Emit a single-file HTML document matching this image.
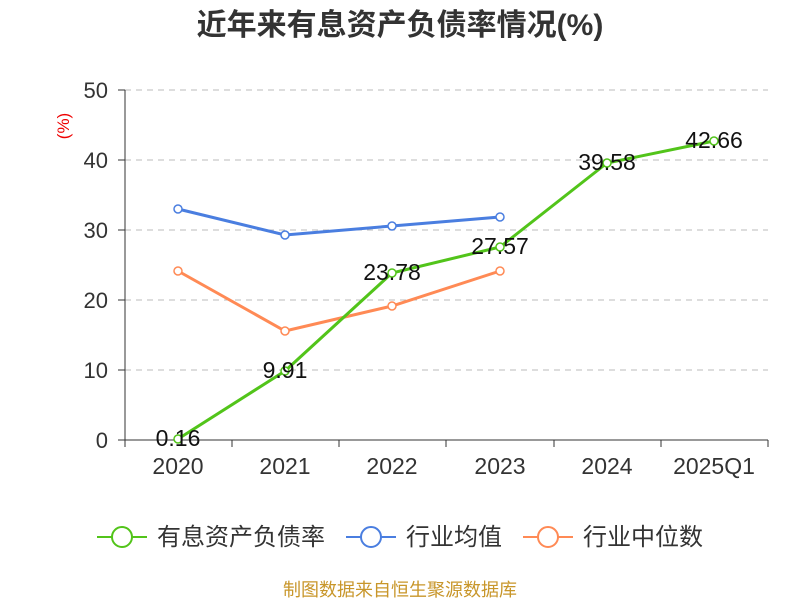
<!DOCTYPE html>
<html><head><meta charset="utf-8"><style>body{margin:0;background:#fff}</style></head><body>
<svg width="800" height="600" xmlns="http://www.w3.org/2000/svg" font-family="Liberation Sans, Noto Sans CJK SC, sans-serif">
<text x="400" y="35" text-anchor="middle" font-size="30" font-weight="bold" fill="#333">近年来有息资产负债率情况(%)</text>
<text transform="translate(69,126) rotate(-90)" text-anchor="middle" font-size="17" fill="#e00">(%)</text>
<g stroke="#bbb" stroke-dasharray="6,5" stroke-width="1">
<line x1="125" y1="90" x2="768" y2="90"/><line x1="125" y1="160" x2="768" y2="160"/><line x1="125" y1="230" x2="768" y2="230"/><line x1="125" y1="300" x2="768" y2="300"/><line x1="125" y1="370" x2="768" y2="370"/></g>
<g stroke="#333" stroke-width="1">
<line x1="125" y1="90" x2="125" y2="440"/>
<line x1="125" y1="440" x2="768" y2="440"/>
<line x1="118" y1="90" x2="125" y2="90"/><line x1="118" y1="160" x2="125" y2="160"/><line x1="118" y1="230" x2="125" y2="230"/><line x1="118" y1="300" x2="125" y2="300"/><line x1="118" y1="370" x2="125" y2="370"/><line x1="118" y1="440" x2="125" y2="440"/>
<line x1="125" y1="440" x2="125" y2="447"/><line x1="232" y1="440" x2="232" y2="447"/><line x1="339" y1="440" x2="339" y2="447"/><line x1="446" y1="440" x2="446" y2="447"/><line x1="554" y1="440" x2="554" y2="447"/><line x1="661" y1="440" x2="661" y2="447"/><line x1="768" y1="440" x2="768" y2="447"/>
</g>
<g font-size="22" fill="#333" text-anchor="end">
<text x="108" y="98">50</text><text x="108" y="168">40</text><text x="108" y="238">30</text><text x="108" y="308">20</text><text x="108" y="378">10</text><text x="108" y="448">0</text></g>
<g font-size="23" fill="#333" text-anchor="middle">
<text x="178" y="474">2020</text><text x="285" y="474">2021</text><text x="392" y="474">2022</text><text x="500" y="474">2023</text><text x="607" y="474">2024</text><text x="714" y="474">2025Q1</text></g>
<g fill="#fff" stroke-width="1.5">
<polyline points="178,209 285,235 392,226 500,217" fill="none" stroke="#4a7ee0" stroke-width="3"/>
<circle cx="178" cy="209" r="4" stroke="#4a7ee0"/><circle cx="285" cy="235" r="4" stroke="#4a7ee0"/><circle cx="392" cy="226" r="4" stroke="#4a7ee0"/><circle cx="500" cy="217" r="4" stroke="#4a7ee0"/>
<polyline points="178,271 285,331 392,306 500,271" fill="none" stroke="#ff8a55" stroke-width="3"/>
<circle cx="178" cy="271" r="4" stroke="#ff8a55"/><circle cx="285" cy="331" r="4" stroke="#ff8a55"/><circle cx="392" cy="306" r="4" stroke="#ff8a55"/><circle cx="500" cy="271" r="4" stroke="#ff8a55"/>
<polyline points="178,439 285,371 392,273 500,247 607,163 714,141" fill="none" stroke="#52c41a" stroke-width="3"/>
<circle cx="178" cy="439" r="4" stroke="#52c41a"/><circle cx="285" cy="371" r="4" stroke="#52c41a"/><circle cx="392" cy="273" r="4" stroke="#52c41a"/><circle cx="500" cy="247" r="4" stroke="#52c41a"/><circle cx="607" cy="163" r="4" stroke="#52c41a"/><circle cx="714" cy="141" r="4" stroke="#52c41a"/>
</g>
<g font-size="23" fill="#111" text-anchor="middle">
<text x="178" y="446">0.16</text><text x="285" y="378">9.91</text><text x="392" y="280">23.78</text><text x="500" y="254">27.57</text><text x="607" y="170">39.58</text><text x="714" y="148">42.66</text></g>
<g stroke-width="2" fill="#fff">
<line x1="97" y1="537" x2="147" y2="537" stroke="#52c41a"/><circle cx="122" cy="537" r="10" stroke="#52c41a"/>
<line x1="346" y1="537" x2="396" y2="537" stroke="#4a7ee0"/><circle cx="371" cy="537" r="10" stroke="#4a7ee0"/>
<line x1="523" y1="537" x2="573" y2="537" stroke="#ff8a55"/><circle cx="548" cy="537" r="10" stroke="#ff8a55"/>
</g>
<g font-size="24" fill="#333">
<text x="157" y="545">有息资产负债率</text><text x="406" y="545">行业均值</text><text x="583" y="545">行业中位数</text></g>
<text x="400" y="596" text-anchor="middle" font-size="18" fill="#c8962a">制图数据来自恒生聚源数据库</text>
</svg>
</body></html>
